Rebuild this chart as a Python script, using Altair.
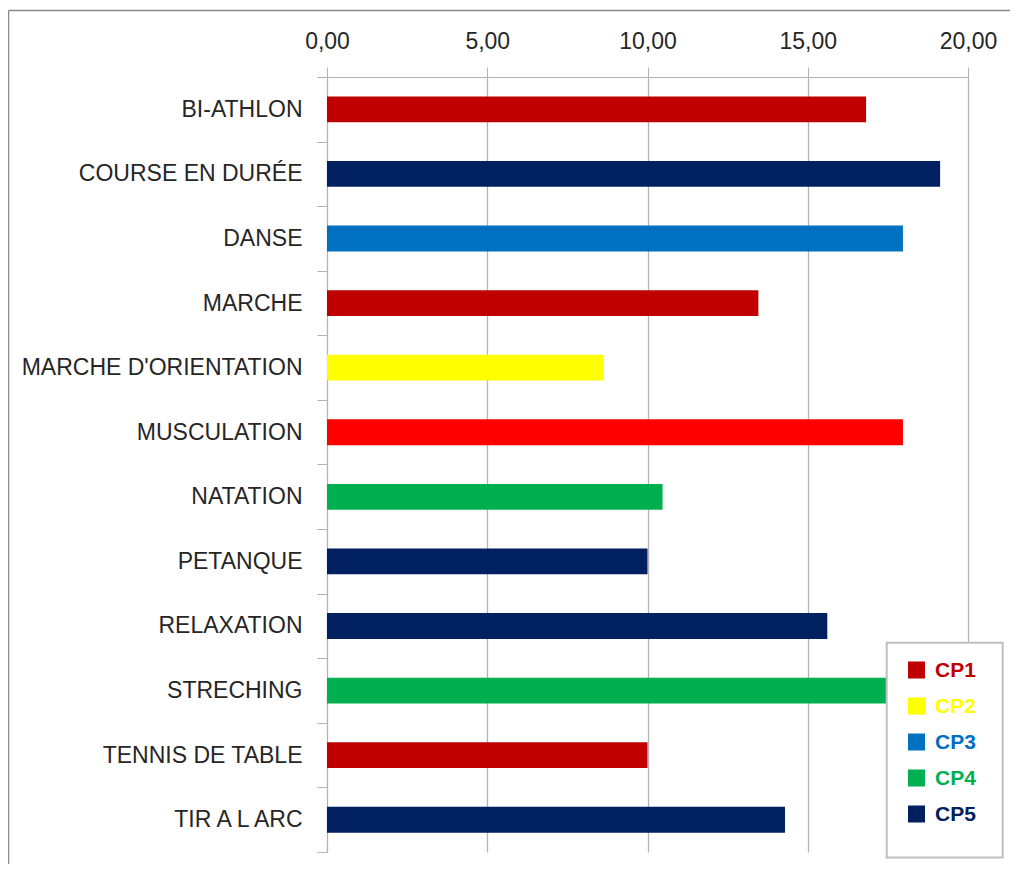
import altair as alt
import pandas as pd

activities = ["BI-ATHLON", "COURSE EN DURÉE", "DANSE", "MARCHE", "MARCHE D'ORIENTATION",
              "MUSCULATION", "NATATION", "PETANQUE", "RELAXATION", "STRECHING",
              "TENNIS DE TABLE", "TIR A L ARC"]
scores = [16.82, 19.13, 17.97, 13.46, 8.63, 17.97, 10.47, 10.00, 15.61, 18.00, 10.00, 14.29]
groups = ["CP1", "CP5", "CP3", "CP1", "CP2", "MUSC", "CP4", "CP5", "CP5", "CP4", "CP1", "CP5"]
legend_groups = ["CP1", "CP2", "CP3", "CP4", "CP5"]
group_domain = legend_groups + ["MUSC"]
group_colors = ["#C00000", "#FFFF00", "#0070C0", "#00B050", "#002060", "#FF0000"]
x_ticks = [0, 5, 10, 15, 20]

df = pd.DataFrame({"activite": activities, "score": scores, "cp": groups})
leg = pd.DataFrame({"cp": legend_groups})
one = pd.DataFrame({"a": [0]})

FONT = "Liberation Sans"
GRID = "#b3b3b3"
color_scale = alt.Scale(domain=group_domain, range=group_colors)

border_top = alt.Chart(one).mark_rule(stroke="#8a8a8a", strokeWidth=1.3).encode(
    x=alt.value(-318.4), x2=alt.value(720), y=alt.value(-66.5)
)
border_left = alt.Chart(one).mark_rule(stroke="#8a8a8a", strokeWidth=1.3).encode(
    x=alt.value(-318.4), y=alt.value(-66.5), y2=alt.value(820)
)

bars = alt.Chart(df).mark_bar(height={"band": 0.4}).encode(
    y=alt.Y("activite:N", sort=activities,
            scale=alt.Scale(paddingInner=0, paddingOuter=0),
            axis=alt.Axis(title=None, orient="left", labelFont=FONT, labelFontSize=23,
                          labelColor="#262626", labelPadding=15, tickBand="extent",
                          tickSize=10, tickColor=GRID, domainColor=GRID, grid=False,
                          labelLimit=400)),
    x=alt.X("score:Q", scale=alt.Scale(domain=[0, 20], nice=False),
            axis=alt.Axis(title=None, orient="top", values=x_ticks,
                          labelExpr="replace(format(datum.value, '.2f'), '.', ',')",
                          labelFont=FONT, labelFontSize=23, labelColor="#262626",
                          labelFlush=False, labelPadding=14, tickSize=10,
                          tickColor=GRID, domainColor=GRID,
                          grid=True, gridColor=GRID, gridWidth=1.3)),
    color=alt.Color("cp:N", scale=color_scale, legend=None),
)

legend_box = alt.Chart(one).mark_rect(fill="white", stroke="#bfbfbf", strokeWidth=2).encode(
    x=alt.value(559.7), x2=alt.value(675.7), y=alt.value(565.7), y2=alt.value(780.5)
)

leg_y = alt.Y("cp:N", scale=alt.Scale(type="point", domain=legend_groups, range=[593, 737], padding=0), axis=None)

leg_sym = alt.Chart(leg).mark_square(size=289, opacity=1).encode(
    x=alt.value(589.5), y=leg_y, color=alt.Color("cp:N", scale=color_scale, legend=None)
)
leg_txt = alt.Chart(leg).mark_text(align="left", baseline="middle", font=FONT,
                                    fontWeight="bold", fontSize=21, dy=1).encode(
    x=alt.value(608), y=leg_y, text="cp:N", color=alt.Color("cp:N", scale=color_scale, legend=None)
)

chart = alt.layer(border_top, border_left, bars, legend_box, leg_sym, leg_txt).resolve_scale(y="independent").properties(
    width=641, height=775,
    padding={"left": 319, "top": 69, "right": 42, "bottom": 12},
    autosize=alt.AutoSizeParams(type="none"),
    background="white",
).configure_view(stroke=None)

chart.save("out.html", embed_options={"renderer": "svg", "actions": False})
